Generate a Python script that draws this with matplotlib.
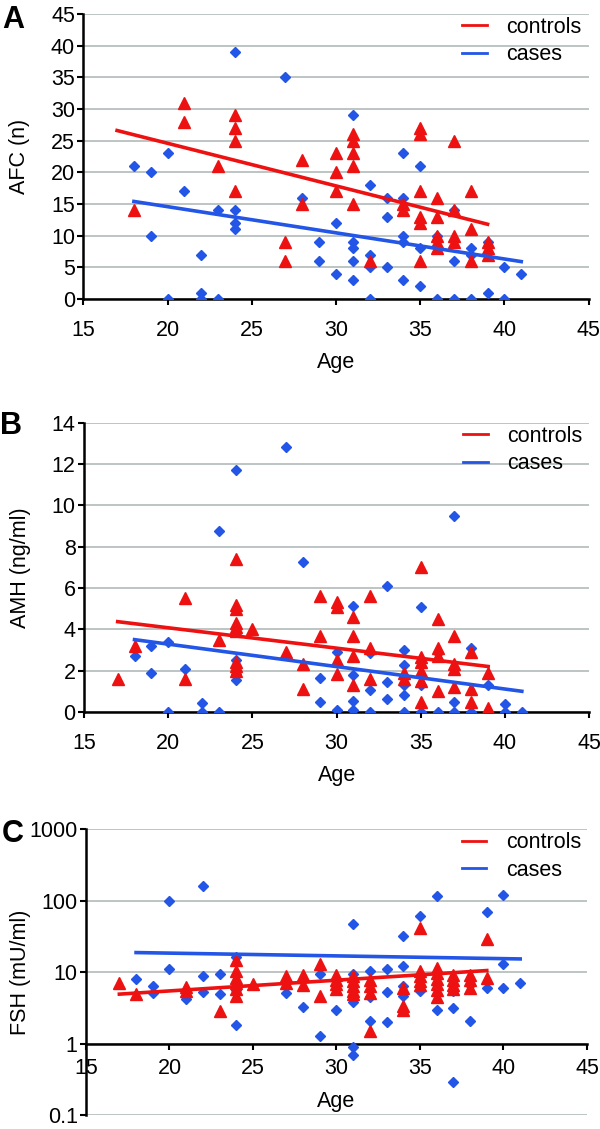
import matplotlib
matplotlib.use("Agg")
import matplotlib.pyplot as plt
from matplotlib.lines import Line2D

plt.rcParams['font.family'] = ['Liberation Sans', 'DejaVu Sans']

RED = '#ee1111'
BLUE = '#2355e6'
GRID = '#bcc4c4'

# %% Data
# Panel A: antral follicle count
afc_controls_age = [18, 21, 21, 23, 24, 24, 24, 24, 27, 27, 28, 28, 30, 30, 30,
                    31, 31, 31, 31, 31, 32, 34, 34, 35, 35, 35, 35, 35, 35,
                    36, 36, 36, 36, 36, 37, 37, 37, 37, 38, 38, 38, 39, 39, 39]
afc_controls = [14, 31, 28, 21, 29, 27, 25, 17, 9, 6, 22, 15, 23, 20, 17,
                26, 25, 23, 21, 15, 6, 15, 14, 27, 26, 17, 13, 12, 6,
                16, 13, 10, 9, 8, 25, 14, 10, 9, 17, 11, 6, 9, 8, 7]
afc_cases_age = [18, 19, 19, 20, 20, 21, 22, 22, 22, 23, 23, 24, 24, 24, 24,
                 27, 28, 29, 29, 30, 30, 31, 31, 31, 31, 31, 32, 32, 32, 32,
                 33, 33, 33, 34, 34, 34, 34, 34, 35, 35, 35, 36, 36, 37, 37, 37,
                 38, 38, 38, 39, 39, 40, 40, 41]
afc_cases = [21, 20, 10, 23, 0, 17, 7, 1, 0, 14, 0, 39, 14, 12, 11,
             35, 16, 9, 6, 12, 4, 29, 9, 8, 6, 3, 18, 7, 5, 0,
             16, 13, 5, 23, 16, 10, 9, 3, 21, 8, 2, 10, 0, 14, 6, 0,
             8, 7, 0, 9, 1, 5, 0, 4]

# Panel B: AMH (ng/ml)
amh_controls_age = [17, 18, 21, 21, 23, 24, 24, 24, 24, 24, 24, 24, 24, 24, 25,
                    27, 28, 28, 29, 29, 30, 30, 30, 30, 31, 31, 31, 31, 32, 32, 32,
                    34, 34, 35, 35, 35, 35, 35, 35, 36, 36, 36, 36, 37, 37, 37, 37,
                    38, 38, 38, 39, 39]
amh_controls = [1.6, 3.2, 5.5, 1.6, 3.5, 7.4, 5.2, 5.0, 4.3, 4.1, 3.9, 2.4, 2.2, 2.0, 4.0,
                2.9, 2.3, 1.1, 5.6, 3.7, 5.3, 5.1, 2.5, 1.85, 4.6, 3.7, 2.7, 1.3, 5.6, 3.1, 1.6,
                1.9, 1.6, 7.0, 2.65, 2.4, 2.0, 1.5, 0.5, 4.5, 3.1, 2.7, 1.0, 3.7, 2.3, 2.1, 1.2,
                2.9, 1.1, 0.5, 1.9, 0.2]
amh_cases_age = [18, 19, 19, 20, 20, 21, 22, 22, 23, 23, 24, 24, 24, 24, 27, 28,
                 29, 29, 30, 30, 31, 31, 31, 31, 32, 32, 32, 33, 33, 33,
                 34, 34, 34, 34, 34, 35, 35, 35, 36, 36, 37, 37, 37, 38, 38,
                 39, 39, 40, 40, 41]
amh_cases = [2.7, 3.2, 1.9, 3.4, 0, 2.1, 0.45, 0, 8.75, 0, 11.7, 2.5, 1.85, 1.55, 12.8, 7.25,
             1.65, 0.5, 2.9, 0.1, 5.15, 1.8, 0.55, 0.1, 2.85, 1.05, 0, 6.1, 1.45, 0.65,
             3.0, 2.25, 1.3, 0.8, 0, 5.1, 1.3, 0, 2.85, 0, 9.5, 0.5, 0, 3.1, 0,
             1.3, 0, 0.4, 0, 0]

# Panel C: FSH (mU/ml)
fsh_controls_age = [17, 18, 21, 21, 23, 24, 24, 24, 24, 24, 24, 25, 27, 27, 28, 28,
                    29, 29, 30, 30, 30, 30, 31, 31, 31, 31, 31, 32, 32, 32, 32,
                    34, 34, 34, 35, 35, 35, 35, 35, 36, 36, 36, 36, 36, 36,
                    37, 37, 37, 37, 38, 38, 38, 39, 39]
fsh_controls = [7.2, 5.0, 6.2, 5.5, 2.9, 15, 10.3, 8.4, 7.2, 5.8, 4.7, 6.9, 9.0, 7.2, 9.3, 6.6,
                13, 4.6, 9.3, 7.9, 6.8, 5.9, 8.8, 7.5, 6.4, 5.5, 5.0, 7.7, 6.4, 5.2, 1.5,
                6.1, 3.4, 3.0, 42, 10.3, 8.8, 7.5, 6.6, 11.4, 9.8, 8.1, 6.8, 5.7, 4.5,
                9.3, 7.9, 6.6, 5.9, 9.3, 7.9, 6.0, 29, 8.4]
fsh_cases_age = [18, 19, 19, 20, 20, 21, 22, 22, 22, 23, 23, 24, 24, 24, 27, 28,
                 29, 29, 30, 31, 31, 31, 31, 31, 32, 32, 32, 33, 33, 33,
                 34, 34, 34, 34, 35, 35, 36, 36, 37, 37, 37, 38, 38, 39, 39,
                 40, 40, 40, 41]
fsh_cases = [8.1, 6.4, 5.2, 100, 11.1, 4.3, 162, 9.0, 5.3, 9.5, 5.0, 16.5, 5.7, 1.84, 5.1, 3.3,
             9.5, 1.27, 3.0, 48, 9.5, 3.9, 0.9, 0.7, 10.6, 4.5, 2.1, 11.2, 5.3, 2.0,
             32.5, 12.1, 6.4, 4.6, 62, 5.5, 117, 3.0, 5.5, 3.2, 0.29, 6.6, 2.1, 70, 6.1,
             120, 13, 6.0, 7.0]

# trendlines as drawn in the figure: age span and the value at each end
controls_span = [17, 39]
cases_span = [18, 41]
afc_controls_trend = [26.6, 11.8]
afc_cases_trend = [15.4, 5.9]
amh_controls_trend = [4.37, 2.2]
amh_cases_trend = [3.5, 1.0]
fsh_controls_trend = [4.96, 10.6]
fsh_cases_trend = [18.9, 15.4]

x_ticks = [15, 20, 25, 30, 35, 40, 45]


def style_axes(ax):
    for side in ['top', 'right']:
        ax.spines[side].set_visible(False)
    for side in ['left', 'bottom']:
        ax.spines[side].set_linewidth(1.8)
        ax.spines[side].set_color('black')
    ax.grid(axis='y', color=GRID, linewidth=1.4)
    ax.set_axisbelow(True)
    ax.set_xlim(15, 45)
    ax.set_xticks(x_ticks)
    ax.tick_params(axis='x', length=4, width=1.5, pad=11, labelsize=15.5)
    ax.tick_params(axis='y', length=4, width=1.5, pad=2, labelsize=15.5)


def draw_panel(ax, c_age, c_val, k_age, k_val, c_trend, k_trend):
    ax.plot(k_age, k_val, linestyle='none', marker='D', ms=5.0, color=BLUE, mec=BLUE, zorder=3)
    ax.plot(c_age, c_val, linestyle='none', marker='^', ms=8.0, color=RED, mec=RED, zorder=4)
    ax.plot(controls_span, c_trend, color=RED, linewidth=2.6, zorder=5)
    ax.plot(cases_span, k_trend, color=BLUE, linewidth=2.6, zorder=5)
    handles = [Line2D([], [], color=RED, linewidth=2), Line2D([], [], color=BLUE, linewidth=2)]
    ax.legend(handles, ['controls', 'cases'], loc='upper left', bbox_to_anchor=(0.75, 0.99),
              frameon=False, fontsize=15.5, handlelength=1.15, handletextpad=0.9,
              borderpad=0, borderaxespad=0, labelspacing=0.3)


fig = plt.figure(figsize=(6.0, 11.29), dpi=100)

# %% A
ax_a = fig.add_axes([0.139, 0.7352, 0.842, 0.2524])
draw_panel(ax_a, afc_controls_age, afc_controls, afc_cases_age, afc_cases,
           afc_controls_trend, afc_cases_trend)
style_axes(ax_a)
ax_a.set_ylim(0, 45)
ax_a.set_yticks(range(0, 46, 5))
ax_a.set_ylabel('AFC (n)', fontsize=15.5)
ax_a.yaxis.set_label_coords(-0.105, 0.5)
ax_a.set_xlabel('Age', fontsize=15.5, labelpad=8)
fig.text(0.003, 0.996, 'A', fontsize=22, fontweight='bold', va='top')

# %% B
ax_b = fig.add_axes([0.14, 0.3694, 0.842, 0.2562])
draw_panel(ax_b, amh_controls_age, amh_controls, amh_cases_age, amh_cases,
           amh_controls_trend, amh_cases_trend)
style_axes(ax_b)
ax_b.set_ylim(0, 14)
ax_b.set_yticks(range(0, 15, 2))
ax_b.set_ylabel('AMH (ng/ml)', fontsize=15.5)
ax_b.yaxis.set_label_coords(-0.105, 0.5)
ax_b.set_xlabel('Age', fontsize=15.5, labelpad=8)
fig.text(0.0, 0.636, 'B', fontsize=22, fontweight='bold', va='top')

# %% C
ax_c = fig.add_axes([0.1433, 0.012, 0.835, 0.2535])
ax_c.set_yscale('log')
draw_panel(ax_c, fsh_controls_age, fsh_controls, fsh_cases_age, fsh_cases,
           fsh_controls_trend, fsh_cases_trend)
style_axes(ax_c)
ax_c.set_ylim(0.1, 1000)
ax_c.set_yticks([0.1, 1, 10, 100, 1000])
ax_c.set_yticklabels(['0.1', '1', '10', '100', '1000'])
ax_c.minorticks_off()
ax_c.spines['bottom'].set_position(('data', 1))
ax_c.tick_params(axis='x', pad=6)
ax_c.set_ylabel('FSH (mU/ml)', fontsize=15.5)
ax_c.yaxis.set_label_coords(-0.11, 0.5)
ax_c.set_xlabel('Age', fontsize=15.5)
ax_c.xaxis.set_label_coords(0.5, 0.085)
fig.text(0.003, 0.275, 'C', fontsize=22, fontweight='bold', va='top')

fig.savefig('out.png', dpi=100)
